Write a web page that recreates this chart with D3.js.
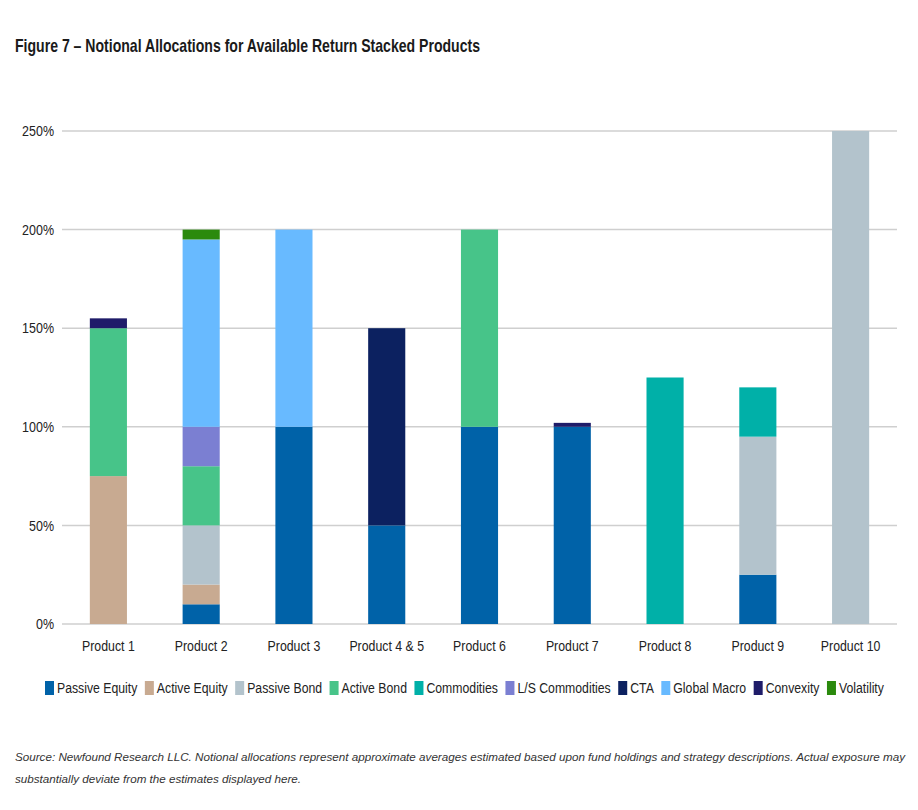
<!DOCTYPE html>
<html><head><meta charset="utf-8">
<script src="https://cdn.jsdelivr.net/npm/d3@7/dist/d3.min.js"></script>
<style>
body{margin:0;background:#fff;}
svg{display:block;}
</style></head>
<body>
<svg id="chart" width="918" height="810"></svg>
<script>
const products = ["Product 1","Product 2","Product 3","Product 4 & 5","Product 6","Product 7","Product 8","Product 9","Product 10"];
const seriesNames = ["Passive Equity","Active Equity","Passive Bond","Active Bond","Commodities","L/S Commodities","CTA","Global Macro","Convexity","Volatility"];
const seriesColors = ["#0062a8","#c8aa91","#b3c3cc","#47c489","#00b0a8","#7b7fd2","#0c2160","#68baff","#1f1c69","#2b8a0d"];
const passiveEquity  = [0,10,100,50,100,100,0,25,0];
const activeEquity   = [75,10,0,0,0,0,0,0,0];
const passiveBond    = [0,30,0,0,0,0,0,70,250];
const activeBond     = [75,30,0,0,100,0,0,0,0];
const commodities    = [0,0,0,0,0,0,125,25,0];
const lsCommodities  = [0,20,0,0,0,0,0,0,0];
const cta            = [0,0,0,100,0,0,0,0,0];
const globalMacro    = [0,95,100,0,0,0,0,0,0];
const convexity      = [5,0,0,0,0,2,0,0,0];
const volatility     = [0,5,0,0,0,0,0,0,0];
const yTicks = [0,50,100,150,200,250];

const seriesValues = [passiveEquity,activeEquity,passiveBond,activeBond,commodities,lsCommodities,cta,globalMacro,convexity,volatility];
const table = products.map((p,i)=>{const r={product:p}; seriesNames.forEach((s,j)=>r[s]=seriesValues[j][i]); return r;});

const svg = d3.select("#chart");
const font = "'Liberation Sans','Arial',sans-serif";
const plotLeft=62, plotRight=897, plotTop=131, plotBottom=624;

// condense text horizontally (reference uses a narrow face)
function squeeze(sel, factor, fixed){
  sel.each(function(){
    const w = this.getComputedTextLength();
    const L = fixed ? fixed : w*factor;
    d3.select(this).attr("textLength",L).attr("lengthAdjust","spacingAndGlyphs");
  });
}

const x = d3.scaleBand().domain(products).range([plotLeft,plotRight]).paddingInner(0.6).paddingOuter(0.3);
const y = d3.scaleLinear().domain([0,250]).range([plotBottom,plotTop]);
const color = d3.scaleOrdinal().domain(seriesNames).range(seriesColors);

// title
const title = svg.append("text").attr("x",15).attr("y",52).attr("font-family",font).attr("font-weight","bold")
  .attr("font-size",19).attr("fill","#1a1a1a").text("Figure 7 – Notional Allocations for Available Return Stacked Products");
squeeze(title,0,465);

// gridlines
svg.append("g").selectAll("line").data(yTicks).join("line")
  .attr("x1",plotLeft).attr("x2",plotRight).attr("y1",d=>y(d)).attr("y2",d=>y(d))
  .attr("stroke","#cfcfcf").attr("stroke-width",1.5);

// y labels
const yAxis = svg.append("g").attr("transform",`translate(${plotLeft},0)`)
  .call(d3.axisLeft(y).tickValues(yTicks).tickFormat(d=>d+"%").tickSize(0).tickPadding(8));
yAxis.select(".domain").remove();
yAxis.selectAll("text").attr("font-family",font).attr("font-size",14.5).attr("fill","#222");
squeeze(yAxis.selectAll("text"),0.86);

// bars
const stack = d3.stack().keys(seriesNames)(table);
svg.append("g").selectAll("g").data(stack).join("g").attr("fill",d=>color(d.key))
  .selectAll("rect").data(d=>d.filter(v=>v[1]-v[0]>0)).join("rect")
  .attr("x",d=>x(d.data.product)).attr("width",x.bandwidth())
  .attr("y",d=>y(d[1])).attr("height",d=>y(d[0])-y(d[1]));

// x labels
const xAxis = svg.append("g").attr("transform",`translate(0,${plotBottom})`)
  .call(d3.axisBottom(x).tickSize(0).tickPadding(17));
xAxis.select(".domain").remove();
xAxis.selectAll("text").attr("font-family",font).attr("font-size",14.5).attr("fill","#222");
squeeze(xAxis.selectAll("text"),0.85);

// legend
const lg = svg.append("g");
let lx = 45;
seriesNames.forEach(s=>{
  const g = lg.append("g").attr("transform",`translate(${lx},0)`);
  g.append("rect").attr("x",0).attr("y",681).attr("width",9).attr("height",14).attr("fill",color(s));
  const t = g.append("text").attr("x",12).attr("y",693).attr("font-family",font).attr("font-size",14).attr("fill","#222").text(s);
  const w = t.node().getComputedTextLength()*0.875;
  t.attr("textLength",w).attr("lengthAdjust","spacingAndGlyphs");
  lx += 12 + w + 7.5;
});

// source
const src = svg.append("g").attr("font-family",font).attr("font-style","italic").attr("font-size",11.7).attr("fill","#333");
const s1 = src.append("text").attr("x",15).attr("y",761).text("Source: Newfound Research LLC. Notional allocations represent approximate averages estimated based upon fund holdings and strategy descriptions. Actual exposure may");
const s2 = src.append("text").attr("x",15).attr("y",783).text("substantially deviate from the estimates displayed here.");
squeeze(s1,0,890);
squeeze(s2,0,286);
</script>
</body></html>
